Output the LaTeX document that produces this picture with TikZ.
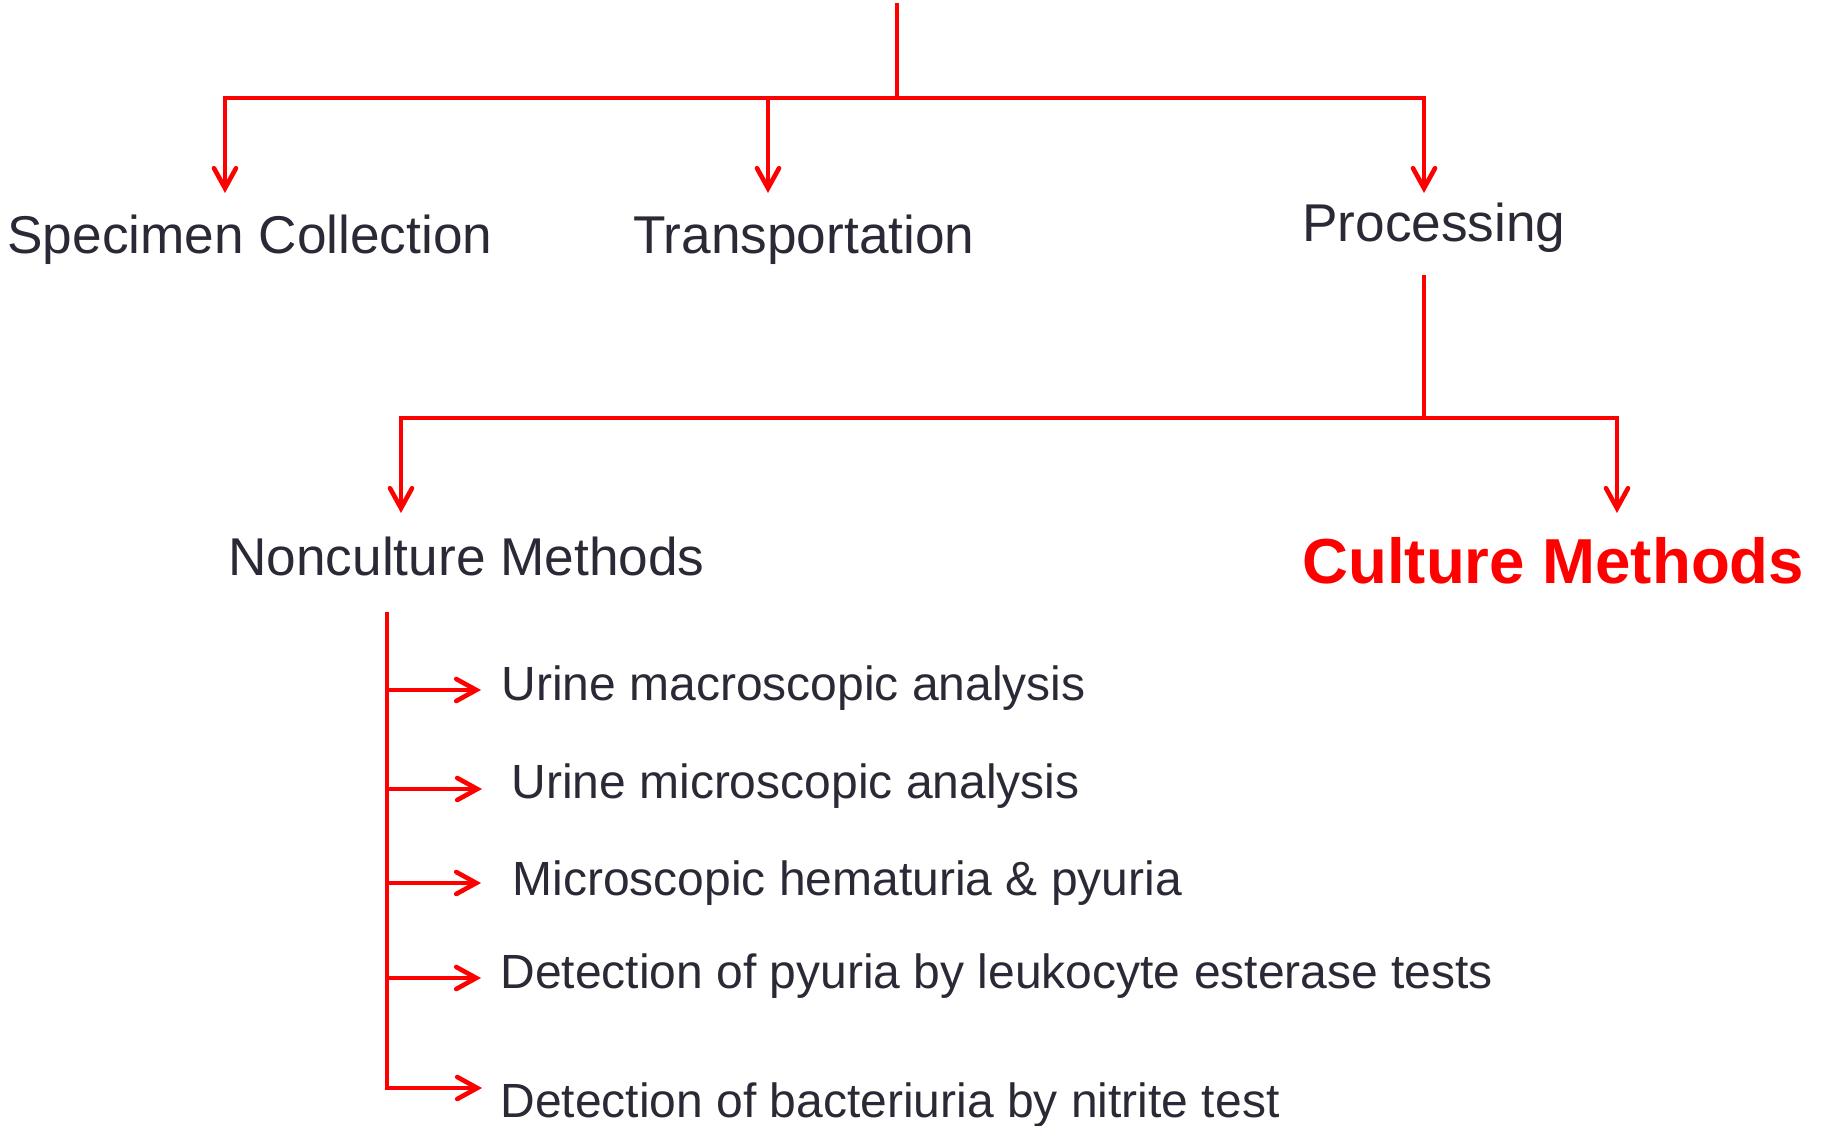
\documentclass[tikz,border=0pt]{standalone}
\usepackage{fontspec}
\setmainfont{Liberation Sans}
\usetikzlibrary{arrows.meta}
\definecolor{txt}{RGB}{42,42,54}
\definecolor{lred}{RGB}{255,0,0}
\begin{document}
\begin{tikzpicture}[x=0.5pt,y=-0.5pt,
  conn/.style={draw=lred,line width=2.3pt},
  arr/.style={conn,-{Straight Barb[length=10pt,width=11pt,line cap=round]}},
  lbl/.style={inner sep=0pt,anchor=base west,text=txt,font=\fontsize{26.6}{30}\selectfont},
  sublbl/.style={inner sep=0pt,anchor=base west,text=txt,font=\fontsize{24}{28}\selectfont},
  hot/.style={inner sep=0pt,anchor=base west,text=lred,font=\bfseries\fontsize{31.8}{36}\selectfont}]
\useasboundingbox (0,0) rectangle (1821,1125);

% text nodes
\node[lbl] (spec) at (7,253) {Specimen Collection};
\node[lbl] (trans) at (633,253) {Transportation};
\node[lbl] (proc) at (1302,241) {Processing};
\node[lbl] (noncult) at (228,575) {Nonculture Methods};
\node[hot] (cult) at (1302,583) {Culture Methods};
\node[sublbl] (u1) at (501,700) {Urine macroscopic analysis};
\node[sublbl] (u2) at (511,798) {Urine microscopic analysis};
\node[sublbl] (u3) at (512,895) {Microscopic hematuria \& pyuria};
\node[sublbl] (u4) at (500,988) {Detection of pyuria by leukocyte esterase tests};
\node[sublbl] (u5) at (500,1117) {Detection of bacteriuria by nitrite test};

% coordinates
\coordinate (top) at (897,3);
\coordinate (j1) at (897,98);
\coordinate (b1M) at (768,98);
\coordinate (tipS) at (225,193);
\coordinate (tipT) at (768,193);
\coordinate (tipP) at (1424,193);
\coordinate (pb) at (1424,275);
\coordinate (j2) at (1424,418);
\coordinate (tipN) at (401,513);
\coordinate (tipC) at (1617,513);
\coordinate (v0) at (387,612);
\coordinate (s1) at (387,690);
\coordinate (s2) at (387,789);
\coordinate (s3) at (387,883);
\coordinate (s4) at (387,978);
\coordinate (t1) at (481,690);
\coordinate (t2) at (482,789);
\coordinate (t3) at (481,883);
\coordinate (t4) at (481,978);
\coordinate (t5) at (482,1088);

% connectors
\draw[conn] (top) -- (j1);
\draw[arr] (j1) -| (tipS);
\draw[arr] (j1) -| (tipP);
\draw[arr] (b1M) -- (tipT);
\draw[conn] (pb) -- (j2);
\draw[arr] (j2) -| (tipN);
\draw[arr] (j2) -| (tipC);
\draw[arr] (v0) |- (t5);
\draw[arr] (s1) -- (t1);
\draw[arr] (s2) -- (t2);
\draw[arr] (s3) -- (t3);
\draw[arr] (s4) -- (t4);
\end{tikzpicture}
\end{document}
